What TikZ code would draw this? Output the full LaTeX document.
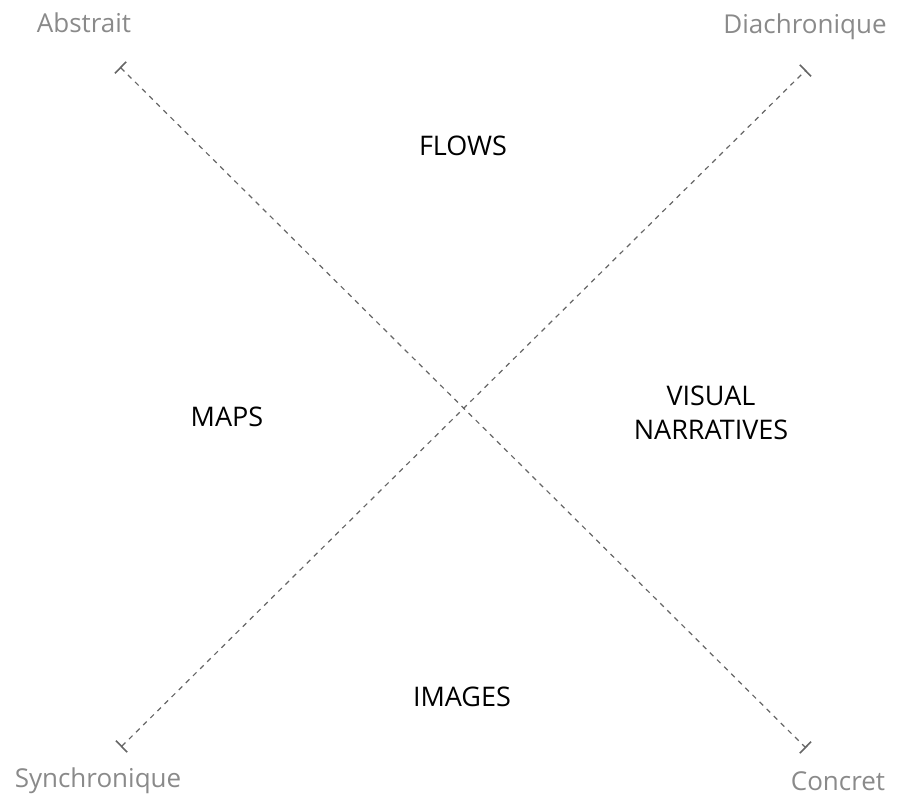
\documentclass[tikz,border=0pt]{standalone}
\usepackage{fontspec}
\setmainfont{Open Sans}
\usetikzlibrary{arrows.meta}
\definecolor{axisgray}{HTML}{666666}
\definecolor{labelgray}{HTML}{8A8A8A}
\begin{document}
\begin{tikzpicture}[x=1pt,y=-1pt,
  axis/.style={draw=axisgray, line width=1.2pt, dash pattern=on 5pt off 5pt, {Bar[width=16pt,line width=1.6pt]}-{Bar[width=16pt,line width=1.6pt]}},
  pole/.style={text=labelgray, font=\fontsize{26}{30}\selectfont, inner sep=0pt, anchor=base},
  zone/.style={text=black, font=\fontsize{27}{34}\selectfont, inner sep=0pt, align=center}]
\useasboundingbox (0,0) rectangle (897,802);
\coordinate (a1) at (120,67);
\coordinate (a2) at (806,748);
\coordinate (b1) at (806,70);
\coordinate (b2) at (121,747);
\draw[axis] (a1) -- (a2);
\draw[axis] (b2) -- (b1);
\node[pole] (abs) at (84,33) {Abstrait};
\node[pole] (dia) at (805,34) {Diachronique};
\node[pole] (syn) at (98,787) {Synchronique};
\node[pole] (con) at (838,790) {Concret};
\node[zone] (flows) at (463,146) {FLOWS};
\node[zone] (maps) at (227,417) {MAPS};
\node[zone] (vis) at (711,413) {VISUAL\\NARRATIVES};
\node[zone] (img) at (462,697) {IMAGES};
\end{tikzpicture}
\end{document}
